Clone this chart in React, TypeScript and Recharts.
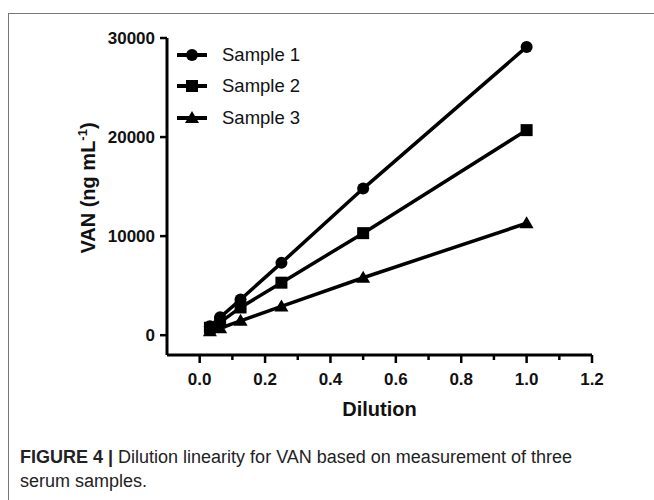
import { Legend, Line, LineChart, XAxis, YAxis, Label } from "recharts";

const dilution = [0.03125, 0.0625, 0.125, 0.25, 0.5, 1.0];
const sample1 = [900, 1800, 3600, 7300, 14800, 29100];
const sample2 = [750, 1300, 2800, 5300, 10300, 20700];
const sample3 = [400, 700, 1450, 2900, 5800, 11300];
const seriesNames = ["Sample 1", "Sample 2", "Sample 3"];
const xTicks = [0, 0.1, 0.2, 0.3, 0.4, 0.5, 0.6, 0.7, 0.8, 0.9, 1.0, 1.1, 1.2];
const yTicks = [0, 10000, 20000, 30000];

const data = dilution.map((x, i) => ({
  x,
  s1: sample1[i],
  s2: sample2[i],
  s3: sample3[i],
}));

const FONT = "'Liberation Sans', Arial, sans-serif";

function Circle({ cx, cy }: any) {
  return <circle cx={cx} cy={cy} r={6} fill="#000" />;
}
function Square({ cx, cy }: any) {
  return <rect x={cx - 6} y={cy - 6} width={12} height={12} fill="#000" />;
}
function Triangle({ cx, cy }: any) {
  return <polygon points={`${cx},${cy - 7} ${cx - 7},${cy + 5} ${cx + 7},${cy + 5}`} fill="#000" />;
}
const shapes = [Circle, Square, Triangle];

function XTick({ x, y, payload }: any) {
  const v = payload.value;
  const major = Math.round(v * 10) % 2 === 0;
  return (
    <g>
      <line x1={x} x2={x} y1={y} y2={y + (major ? 8 : 5)} stroke="#000" strokeWidth={2.5} />
      {major && (
        <text x={x} y={y + 30} textAnchor="middle" fontFamily={FONT} fontWeight="bold" fontSize={17} fill="#111">
          {v.toFixed(1)}
        </text>
      )}
    </g>
  );
}

function YTick({ x, y, payload }: any) {
  return (
    <g>
      <line x1={x} x2={x - 7} y1={y} y2={y} stroke="#000" strokeWidth={2.5} />
      <text x={x - 12} y={y + 6} textAnchor="end" fontFamily={FONT} fontWeight="bold" fontSize={17} fill="#111">
        {payload.value}
      </text>
    </g>
  );
}

function LegendBox() {
  return (
    <div style={{ fontFamily: FONT, fontSize: 18.5, color: "#111" }}>
      {seriesNames.map((name, i) => {
        const Shape = shapes[i];
        return (
          <div key={name} style={{ display: "flex", alignItems: "center", height: 31.5 }}>
            <svg width={32} height={16} style={{ marginRight: 14 }}>
              <line x1={1} x2={31} y1={8} y2={8} stroke="#000" strokeWidth={4} />
              <Shape cx={16} cy={8} />
            </svg>
            <span>{name}</span>
          </div>
        );
      })}
    </div>
  );
}

export default function App() {
  return (
    <div style={{ position: "absolute", left: 0, top: 0, width: 654, height: 500, background: "#fff" }}>
      <div
        style={{
          position: "absolute",
          left: 8,
          top: 13,
          width: 660,
          height: 500,
          borderTop: "1.5px solid #777",
          borderLeft: "1.5px solid #777",
        }}
      />
      <div style={{ position: "absolute", left: 0, top: 0 }}>
        <LineChart width={654} height={440} data={data} margin={{ top: 38, right: 62, bottom: 0, left: 0 }}>
          <XAxis
            dataKey="x"
            type="number"
            domain={[-0.1, 1.2]}
            ticks={xTicks}
            interval={0}
            height={85}
            tickSize={0}
            tickMargin={0}
            tickLine={false}
            axisLine={{ stroke: "#000", strokeWidth: 3 }}
            tick={<XTick />}
          >
            <Label
              content={() => (
                <text x={379.5} y={416} textAnchor="middle" fontFamily={FONT} fontWeight="bold" fontSize={20} fill="#111">
                  Dilution
                </text>
              )}
            />
          </XAxis>
          <YAxis
            type="number"
            domain={[-2000, 30000]}
            ticks={yTicks}
            interval={0}
            width={167}
            tickSize={0}
            tickMargin={0}
            tickLine={false}
            axisLine={{ stroke: "#000", strokeWidth: 3 }}
            tick={<YTick />}
          >
            <Label
              content={() => (
                <text
                  transform="translate(95, 188) rotate(-90)"
                  textAnchor="middle"
                  fontFamily={FONT}
                  fontWeight="bold"
                  fontSize={20}
                  fill="#111"
                >
                  VAN (ng mL
                  <tspan dy={-8} fontSize={13}>-1</tspan>
                  <tspan dy={8}>)</tspan>
                </text>
              )}
            />
          </YAxis>
          <Legend
            layout="vertical"
            align="center"
            verticalAlign="middle"
            wrapperStyle={{ left: 176, top: 39, width: 140, height: 100 }}
            content={() => <LegendBox />}
          />
          <Line dataKey="s1" name={seriesNames[0]} stroke="#000" strokeWidth={3.5} dot={<Circle />} isAnimationActive={false} />
          <Line dataKey="s2" name={seriesNames[1]} stroke="#000" strokeWidth={3.5} dot={<Square />} isAnimationActive={false} />
          <Line dataKey="s3" name={seriesNames[2]} stroke="#000" strokeWidth={3.5} dot={<Triangle />} isAnimationActive={false} />
        </LineChart>
      </div>
      <div
        style={{
          position: "absolute",
          left: 20,
          top: 445,
          fontFamily: FONT,
          fontSize: 18,
          lineHeight: "24px",
          color: "#222",
          width: 630,
        }}
      >
        <b>FIGURE 4 |</b> Dilution linearity for VAN based on measurement of three
        <br />
        serum samples.
      </div>
    </div>
  );
}
